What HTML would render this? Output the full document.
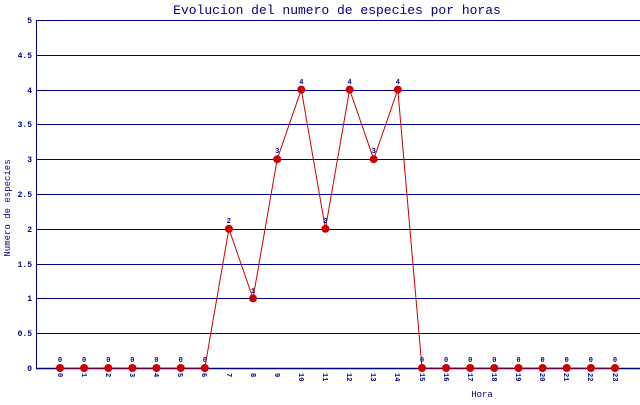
<!DOCTYPE html>
<html><head><meta charset="utf-8"><style>body{margin:0;background:#fff}</style></head><body>
<svg width="640" height="400" xmlns="http://www.w3.org/2000/svg" font-family="Liberation Mono, DejaVu Sans Mono, monospace">
<rect width="640" height="400" fill="#fff"/>
<text x="337" y="14" font-size="13" fill="#000080" text-anchor="middle">Evolucion del numero de especies por horas</text>
<g stroke="#000080" stroke-width="1">
<line x1="36" y1="20.5" x2="640" y2="20.5"/><line x1="36" y1="55.5" x2="640" y2="55.5"/>
<line x1="36" y1="90.5" x2="640" y2="90.5"/><line x1="36" y1="124.5" x2="640" y2="124.5"/>
<line x1="36" y1="159.5" x2="640" y2="159.5"/><line x1="36" y1="194.5" x2="640" y2="194.5"/>
<line x1="36" y1="229.5" x2="640" y2="229.5"/><line x1="36" y1="264.5" x2="640" y2="264.5"/>
<line x1="36" y1="298.5" x2="640" y2="298.5"/><line x1="36" y1="333.5" x2="640" y2="333.5"/>
<line x1="36" y1="368.5" x2="640" y2="368.5" stroke-width="1.5"/><line x1="36.5" y1="20" x2="36.5" y2="368"/>
</g>
<g font-size="8" fill="#000080" text-anchor="end" font-weight="bold">
<text x="32" y="23">5</text><text x="32" y="58">4.5</text><text x="32" y="93">4</text><text x="32" y="127">3.5</text>
<text x="32" y="162">3</text><text x="32" y="197">2.5</text><text x="32" y="232">2</text><text x="32" y="267">1.5</text>
<text x="32" y="301">1</text><text x="32" y="336">0.5</text><text x="32" y="371">0</text>
</g>
<text transform="translate(10,208) rotate(-90)" font-size="9" fill="#000080" text-anchor="middle">Numero de especies</text>
<text x="482" y="397" font-size="9" fill="#000080" text-anchor="middle">Hora</text>
<polyline fill="none" stroke="#cc0000" stroke-width="1" points="60,368 84.1,368 108.3,368 132.4,368 156.5,368 180.7,368 204.8,368 228.9,228.8 253,298.4 277.2,159.2 301.3,89.6 325.4,228.8 349.6,89.6 373.7,159.2 397.8,89.6 422,368 446.1,368 470.2,368 494.3,368 518.5,368 542.6,368 566.7,368 590.9,368 615,368"/>
<g fill="#cc0000">
<circle cx="60" cy="368" r="4"/><circle cx="84.1" cy="368" r="4"/><circle cx="108.3" cy="368" r="4"/><circle cx="132.4" cy="368" r="4"/>
<circle cx="156.5" cy="368" r="4"/><circle cx="180.7" cy="368" r="4"/><circle cx="204.8" cy="368" r="4"/><circle cx="228.9" cy="228.8" r="4"/>
<circle cx="253" cy="298.4" r="4"/><circle cx="277.2" cy="159.2" r="4"/><circle cx="301.3" cy="89.6" r="4"/><circle cx="325.4" cy="228.8" r="4"/>
<circle cx="349.6" cy="89.6" r="4"/><circle cx="373.7" cy="159.2" r="4"/><circle cx="397.8" cy="89.6" r="4"/><circle cx="422" cy="368" r="4"/>
<circle cx="446.1" cy="368" r="4"/><circle cx="470.2" cy="368" r="4"/><circle cx="494.3" cy="368" r="4"/><circle cx="518.5" cy="368" r="4"/>
<circle cx="542.6" cy="368" r="4"/><circle cx="566.7" cy="368" r="4"/><circle cx="590.9" cy="368" r="4"/><circle cx="615" cy="368" r="4"/>
</g>
<g font-size="7" fill="#000080" text-anchor="middle" font-weight="bold">
<text x="60" y="362">0</text><text x="84.1" y="362">0</text><text x="108.3" y="362">0</text><text x="132.4" y="362">0</text>
<text x="156.5" y="362">0</text><text x="180.7" y="362">0</text><text x="204.8" y="362">0</text><text x="228.9" y="223">2</text>
<text x="253" y="293">1</text><text x="277.2" y="153">3</text><text x="301.3" y="84">4</text><text x="325.4" y="223">2</text>
<text x="349.6" y="84">4</text><text x="373.7" y="153">3</text><text x="397.8" y="84">4</text><text x="422" y="362">0</text>
<text x="446.1" y="362">0</text><text x="470.2" y="362">0</text><text x="494.3" y="362">0</text><text x="518.5" y="362">0</text>
<text x="542.6" y="362">0</text><text x="566.7" y="362">0</text><text x="590.9" y="362">0</text><text x="615" y="362">0</text>
</g>
<g font-size="7" fill="#000080" font-weight="bold">
<text transform="translate(58,373) rotate(90)">0</text><text transform="translate(82,373) rotate(90)">1</text>
<text transform="translate(106,373) rotate(90)">2</text><text transform="translate(130,373) rotate(90)">3</text>
<text transform="translate(154,373) rotate(90)">4</text><text transform="translate(178,373) rotate(90)">5</text>
<text transform="translate(202,373) rotate(90)">6</text><text transform="translate(227,373) rotate(90)">7</text>
<text transform="translate(251,373) rotate(90)">8</text><text transform="translate(275,373) rotate(90)">9</text>
<text transform="translate(299,373) rotate(90)">10</text><text transform="translate(323,373) rotate(90)">11</text>
<text transform="translate(347,373) rotate(90)">12</text><text transform="translate(371,373) rotate(90)">13</text>
<text transform="translate(395,373) rotate(90)">14</text><text transform="translate(420,373) rotate(90)">15</text>
<text transform="translate(444,373) rotate(90)">16</text><text transform="translate(468,373) rotate(90)">17</text>
<text transform="translate(492,373) rotate(90)">18</text><text transform="translate(516,373) rotate(90)">19</text>
<text transform="translate(540,373) rotate(90)">20</text><text transform="translate(564,373) rotate(90)">21</text>
<text transform="translate(588,373) rotate(90)">22</text><text transform="translate(613,373) rotate(90)">23</text>
</g>
</svg>
</body></html>
